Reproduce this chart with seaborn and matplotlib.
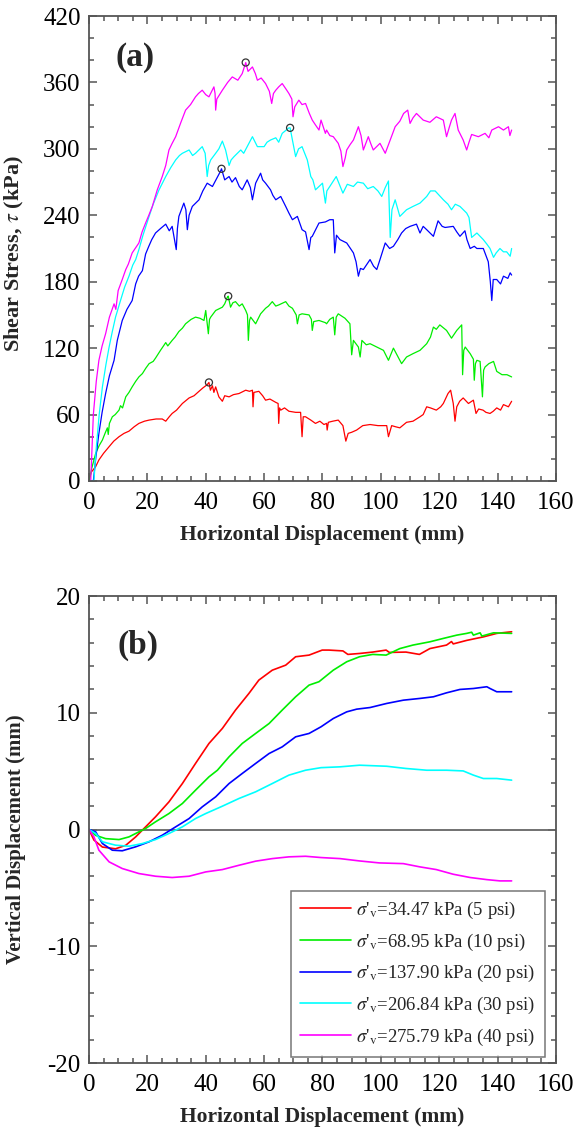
import numpy as np
import pandas as pd
import matplotlib
matplotlib.use("Agg")
import matplotlib.pyplot as plt
import seaborn as sns
from matplotlib.ticker import MultipleLocator

# ---------------- data ----------------
labels = [r"$\sigma$'$_{\mathrm{v}}$=34.47 kPa (5 psi)",
          r"$\sigma$'$_{\mathrm{v}}$=68.95 kPa (10 psi)",
          r"$\sigma$'$_{\mathrm{v}}$=137.90 kPa (20 psi)",
          r"$\sigma$'$_{\mathrm{v}}$=206.84 kPa (30 psi)",
          r"$\sigma$'$_{\mathrm{v}}$=275.79 kPa (40 psi)"]
colors = ["#ff0000", "#00ee00", "#0000ff", "#00ffff", "#ff00ff"]

shear_34 = [(0,0),(0.8,8),(2.3,13),(3.4,19),(5,25),(6.9,31),(8.5,36),(10.3,40),(12,43),(13.7,45),(15.5,49),(17.1,52),(19,54),(20.6,55),(23,56),(25.1,56),(26.3,54),(27.5,58),(28.5,61),(30,64),(32,70),(34.3,75),(36,77),(37.7,81),(39,84),(40.5,87),(41.1,89),(41.6,82),(42.3,86),(42.8,80),(43.4,85),(44.5,76),(45.7,72),(46.5,77),(48,76),(49.5,78),(51.4,79),(53.7,82),(55,81),(56,82),(56.2,67),(56.5,80),(58.2,81),(59.5,77),(60.5,73),(62,74),(64,71),(64.8,70),(65,52),(65.3,66),(65.7,64),(67,66),(68.5,63),(70.8,62),(72.5,62),(73,40),(73.4,58),(74.2,58),(76,55),(77.6,52),(79.1,54),(80.5,51),(81.4,52),(81.6,46),(82,53),(83.5,54),(85.4,55),(87,50),(88,36),(88.8,43),(90,44),(91.7,46),(93.8,50),(96.3,51),(99,50),(102,50),(102.6,40),(103.7,50),(105,49),(106.5,48),(108.8,53),(111,54),(113.4,58),(114.5,60),(115.7,67),(117,66),(119,64),(120.5,67),(121.4,70),(123,79),(123.9,82),(124.8,70),(125.4,54),(126,67),(127,72),(128.2,75),(130,70),(131.7,73),(132.6,61),(133.5,65),(135,64),(136,62),(137.4,61),(138.5,63),(139.7,66),(141,64),(142,69),(143.7,67),(144.8,72)]

shear_69 = [(0,0),(1,12),(2.3,25),(3.5,32),(4.6,37),(5.5,43),(6.3,48),(6.6,42),(7,52),(8,58),(9,60),(10.3,64),(10.8,68),(11.5,66),(12.6,76),(13.7,80),(14.8,85),(16,90),(17.1,94),(18.3,97),(19.5,102),(20.6,106),(22,108),(22.8,111),(24.5,118),(26.3,125),(27,122),(28.5,127),(29.5,130),(30.8,135),(32,138),(33.1,142),(35,146),(36.5,148),(38,147),(39.4,145),(40,154),(40.9,133),(41.3,146),(41.7,148),(43.4,154),(45.7,157),(46.5,160),(47.4,166),(47.7,167),(48.5,157),(49.3,161),(50.2,162),(51.5,158),(52.5,160),(53.7,154),(54.3,150),(54.6,127),(55,145),(55.4,148),(57.1,142),(58.8,151),(60.5,156),(61.5,158),(62.8,162),(64,158),(65,159),(67.4,162),(68.5,158),(69.7,156),(71,150),(71.4,142),(72,150),(73,151),(75.4,150),(76.2,146),(76.5,136),(77,144),(78.8,145),(81,143),(81.4,142),(82.5,146),(83.7,148),(84.2,132),(84.7,148),(85.4,151),(87.7,147),(89.4,142),(90,114),(90.6,127),(92.3,121),(92.9,112),(93.5,127),(95,123),(96.3,124),(98.6,121),(100.9,118),(102.6,109),(104.3,120),(105.5,114),(107.1,106),(108.8,112),(111,115),(113.4,118),(115.7,124),(117,130),(118,139),(119,137),(120.2,141),(122.5,136),(124.2,129),(126,136),(127.7,141),(128,96),(128.4,118),(128.9,121),(130.6,115),(131.7,110),(132,91),(132.4,106),(132.9,109),(134,108),(134.8,76),(135.2,100),(135.7,103),(137,106),(138.6,108),(139.7,99),(141.5,96),(143.2,96),(144.8,94)]

shear_138 = [(0,0),(1.5,0),(2.3,20),(3.4,43),(4.5,62),(5.7,79),(7,95),(8.6,109),(9.7,127),(11.4,145),(13,155),(14.8,163),(16,178),(17,185),(18.3,190),(19.4,205),(20.5,212),(21.5,218),(22.8,224),(24.5,228),(26.3,232),(27.5,226),(28.5,230),(29.9,209),(30.3,228),(30.8,239),(32.5,251),(33.2,245),(33.7,227),(34.3,240),(35.4,248),(37.7,254),(39,262),(40.5,269),(42.3,266),(43.5,272),(45.1,280),(45.4,282),(46.5,272),(48,275),(49,270),(50.2,274),(51.5,266),(52.5,263),(54.2,272),(55.3,265),(56,254),(57.1,269),(58.8,278),(59.5,272),(60.5,269),(62.2,263),(63,258),(64,254),(65.7,257),(67.4,248),(68.5,242),(69.7,236),(71.4,239),(73,227),(74.2,225),(75.4,209),(76,220),(76.5,221),(78.8,233),(81,234),(82.5,236),(83.7,236),(84.2,206),(84.8,222),(86,218),(88.3,215),(90.6,206),(91.5,198),(92.3,185),(93,192),(94,191),(96.3,200),(97.5,194),(98.6,191),(99.7,200),(101.5,215),(103,210),(104.3,212),(105.8,218),(107.1,224),(108.5,228),(110,230),(112.2,232),(113.4,224),(114.5,230),(115.7,227),(118,221),(119.6,235),(121,230),(122,229),(124.8,230),(126,225),(127.1,221),(128.8,226),(129.5,218),(130.6,210),(132,212),(132.9,210),(135.1,210),(136.8,198),(137.5,180),(138,163),(138.5,182),(139.7,182),(141,178),(142,185),(143.5,183),(144.3,188),(144.8,186)]

shear_207 = [(0,0),(1.7,0),(2.5,30),(3.5,60),(4.6,85),(5.8,105),(6.9,121),(8,135),(9.1,148),(10.8,163),(12.2,175),(13.7,185),(15,195),(16,200),(17.1,209),(18.5,222),(20.6,239),(22,250),(24,263),(26.3,275),(28,283),(29.7,290),(31,294),(32,296),(34.3,299),(35.5,294),(36.5,296),(38.8,302),(39.8,296),(40.5,275),(41,285),(41.7,290),(43.4,296),(44.5,300),(45.7,307),(46.8,299),(48,285),(48.7,290),(49.7,293),(52,299),(53,296),(54.2,302),(56,311),(57.7,302),(60,302),(61,306),(62.2,308),(64,310),(65,306),(66.2,314),(68.5,319),(68.9,319),(69.7,308),(70.8,293),(71.8,300),(73,302),(74.8,290),(76,275),(76.7,272),(77.6,263),(80,269),(81,251),(81.5,262),(82.5,266),(84.7,275),(87,260),(88.5,268),(90.6,266),(92,270),(94,269),(95.5,264),(97.4,266),(99,262),(100.3,257),(101.5,265),(102.6,271),(103.2,220),(103.8,245),(104.9,254),(106.5,239),(108.8,245),(111,248),(113.4,251),(115.7,257),(117,262),(118.6,262),(120,258),(121.4,254),(123,250),(124.2,245),(125.5,250),(127.1,248),(129.4,242),(130.2,238),(131.1,220),(132.9,224),(135.1,218),(136.3,214),(137.4,210),(138.6,202),(139.5,206),(140.8,210),(142,207),(143.1,207),(144.3,203),(144.8,210)]

shear_276 = [(0,0),(0.6,0),(1.5,60),(2.5,90),(3.4,109),(4.5,122),(5.7,133),(7,148),(8.6,160),(9.2,155),(10,172),(11.4,182),(12.6,191),(13.5,196),(14.8,206),(17.1,215),(18.2,225),(19.4,233),(20.5,240),(21.7,248),(22.5,255),(23.4,263),(25.1,275),(26.3,285),(27.4,299),(28.5,305),(29.7,311),(31.5,324),(33.1,335),(34.8,340),(36.5,347),(37.5,350),(38.8,353),(40,349),(41.1,347),(42.8,356),(43.2,350),(43.4,335),(43.8,345),(45.7,353),(47.5,360),(49.1,365),(51,362),(52.5,368),(53.7,378),(54.5,370),(56,374),(57,368),(57.7,362),(59,364),(60.5,359),(61.8,352),(62.6,341),(63.2,350),(64,353),(65,356),(66.2,359),(67.5,354),(68.5,350),(69.5,345),(69.9,329),(70.5,338),(71.9,344),(73,340),(74.2,341),(75.5,332),(76.5,326),(77.5,322),(78.8,317),(79.5,326),(81,314),(81.4,317),(82.5,312),(83.7,311),(85.4,305),(86.3,298),(87,284),(87.8,292),(88.3,299),(89.5,304),(90.6,308),(92.3,320),(93.2,312),(94,299),(95.7,311),(96.5,305),(97.4,299),(99.7,305),(101.5,296),(103.2,308),(104.9,320),(106.5,325),(107.8,332),(109.2,335),(110,323),(111,328),(112.2,332),(114.5,326),(116.8,324),(119,329),(121.4,326),(122.5,311),(123.5,320),(124.2,326),(125.4,332),(126.5,317),(128.2,308),(129.4,299),(130.2,306),(131.1,313),(133.4,311),(135.7,314),(137,310),(138,317),(140.3,320),(142,317),(143.7,320),(144.2,312),(144.8,317)]

peak_x = [41.1, 47.7, 45.4, 68.9, 53.7]
peak_y = [89, 167, 282, 319, 378]

vert_34 = [(0,0),(1.7,-0.9),(4.6,-1.5),(9.1,-1.65),(12.6,-1.35),(16,-0.63),(19.4,0.23),(22.8,1.09),(27.4,2.37),(32,3.94),(36.5,5.66),(41.1,7.37),(45.7,8.66),(50.2,10.23),(54.8,11.66),(58.2,12.8),(62.8,13.65),(67.4,14.08),(70.8,14.8),(75.4,14.94),(79.9,15.37),(82.2,15.37),(87,15.3),(88.7,15.0),(92.7,15.08),(97.2,15.2),(101.8,15.37),(102.9,15.17),(108.6,15.2),(113.2,15.0),(116.8,15.5),(122.5,15.8),(124.2,16.1),(124.8,15.9),(129.4,16.2),(135.1,16.5),(139.7,16.8),(144.8,16.94)]

vert_69 = [(0,0),(2.3,-0.5),(5.7,-0.78),(10.3,-0.86),(13.7,-0.63),(17.1,-0.2),(19.4,0.09),(22.8,0.66),(27.4,1.37),(32,2.23),(36.5,3.37),(41.1,4.51),(44,5.08),(48,6.23),(52.5,7.37),(57.1,8.23),(61.7,9.08),(66.2,10.23),(70.8,11.37),(75.4,12.37),(78.8,12.66),(83.7,13.65),(88.3,14.37),(92.7,14.8),(97.2,15.0),(101.8,14.94),(106.5,15.5),(111,15.8),(116.8,16.08),(121.4,16.37),(126,16.65),(129.4,16.8),(131.1,16.9),(131.7,16.65),(134,16.85),(134.6,16.57),(138.6,16.85),(144.8,16.8)]

vert_138 = [(0,0),(2.3,-0.2),(4.6,-1.2),(8,-1.77),(11.4,-1.82),(16,-1.48),(20.6,-1.05),(25.1,-0.49),(29.7,0.23),(34.3,0.94),(38.8,1.94),(43.4,2.8),(48,3.94),(52.5,4.8),(57.1,5.66),(61.7,6.51),(66.2,7.08),(70.8,7.94),(75.4,8.23),(79.5,8.8),(83.7,9.51),(88.3,10.08),(91.7,10.31),(96.3,10.45),(102,10.8),(107.7,11.08),(113.4,11.23),(118,11.37),(122.5,11.71),(127.1,12.0),(131.7,12.08),(136.3,12.23),(137.4,12.08),(139.7,11.8),(144.8,11.8)]

vert_207 = [(0,0),(2.3,-0.34),(4.6,-1.05),(9.1,-1.34),(13.7,-1.43),(18.3,-1.2),(22.8,-0.86),(27.4,-0.34),(32,0.23),(36.5,0.94),(40,1.37),(45.7,2.0),(51.4,2.66),(57.1,3.23),(62.8,3.94),(68.5,4.66),(74.2,5.08),(79.5,5.3),(86,5.37),(92.7,5.51),(102,5.42),(108.6,5.23),(115.7,5.08),(122.5,5.08),(128.2,5.02),(131.7,4.66),(135.1,4.37),(139.7,4.37),(144.8,4.23)]

vert_276 = [(0,0),(1.7,-0.63),(3.4,-1.77),(6.9,-2.77),(11.4,-3.34),(17.1,-3.77),(22.8,-4.0),(28.5,-4.11),(34.3,-4.0),(40,-3.63),(45.7,-3.43),(51.4,-3.06),(57.1,-2.71),(62.8,-2.49),(68.5,-2.34),(74.2,-2.29),(79.5,-2.4),(86,-2.49),(92.7,-2.69),(99.5,-2.86),(107.7,-2.92),(113.4,-3.2),(119,-3.43),(124.8,-3.83),(130.6,-4.11),(136.3,-4.29),(140.8,-4.4),(144.8,-4.4)]

shear_series = [shear_34, shear_69, shear_138, shear_207, shear_276]
vert_series = [vert_34, vert_69, vert_138, vert_207, vert_276]


def to_frame(series_list):
    rows = []
    for lab, pts in zip(labels, series_list):
        for k, (x, y) in enumerate(pts):
            rows.append({"x": x, "y": y, "label": lab, "order": k})
    return pd.DataFrame(rows)


dfA = to_frame(shear_series)
dfB = to_frame(vert_series)
palette = dict(zip(labels, colors))

# ---------------- style ----------------
sns.set_theme(style="ticks")
plt.rcParams["font.family"] = ["Liberation Serif", "DejaVu Serif"]
plt.rcParams["mathtext.fontset"] = "stix"
plt.rcParams["axes.unicode_minus"] = False
plt.rcParams["axes.edgecolor"] = "#555555"

fig = plt.figure(figsize=(5.77, 11.28), dpi=100)
axA = fig.add_axes([0.1542, 0.5736, 0.8094, 0.4122])
axB = fig.add_axes([0.1542, 0.0576, 0.8094, 0.4140])

sns.lineplot(data=dfA, x="x", y="y", hue="label", hue_order=labels,
             palette=palette, estimator=None, sort=False, linewidth=0.9,
             legend=False, ax=axA)
sns.scatterplot(x=peak_x, y=peak_y, ax=axA, s=26, marker="o", color="none",
                edgecolor="#333333", linewidth=0.9, zorder=5, legend=False)

axB.axhline(0, color="#666666", lw=1.3, zorder=1)
sns.lineplot(data=dfB, x="x", y="y", hue="label", hue_order=labels,
             palette=palette, estimator=None, sort=False, linewidth=1.2,
             legend=True, ax=axB)

for ax in (axA, axB):
    ax.set_xlim(0, 160)
    ax.xaxis.set_major_locator(MultipleLocator(20))
    ax.xaxis.set_minor_locator(MultipleLocator(5))
    ax.tick_params(which="both", direction="in", top=True, right=True,
                   color="#555555", width=1.1, labelsize=18, labelcolor="black")
    ax.tick_params(which="major", length=6)
    ax.tick_params(which="minor", length=3.5)
    ax.tick_params(axis="x", pad=8)
    ax.tick_params(axis="y", pad=6)
    for s in ax.spines.values():
        s.set_linewidth(1.3)
        s.set_color("#555555")
    ax.set_xlabel("Horizontal Displacement (mm)", fontsize=15.5, fontweight="bold")

axA.set_ylim(0, 420)
axA.yaxis.set_major_locator(MultipleLocator(60))
axA.yaxis.set_minor_locator(MultipleLocator(20))
axA.set_ylabel(r"Shear Stress, $\tau$ (kPa)", fontsize=16, fontweight="bold")

axB.set_ylim(-20, 20)
axB.yaxis.set_major_locator(MultipleLocator(10))
axB.yaxis.set_minor_locator(MultipleLocator(2))
axB.set_ylabel("Vertical Displacement (mm)", fontsize=15, fontweight="bold")

axA.yaxis.set_label_coords(-0.135, 0.49)
axB.yaxis.set_label_coords(-0.135, 0.48)
axA.xaxis.set_label_coords(0.5, -0.095)
axB.xaxis.set_label_coords(0.5, -0.094)

axA.text(0.056, 0.91, "(a)", transform=axA.transAxes, fontsize=24,
         fontweight="bold", va="center", ha="left")
axB.text(0.062, 0.895, "(b)", transform=axB.transAxes, fontsize=24,
         fontweight="bold", va="center", ha="left")

handles, labs = axB.get_legend_handles_labels()
leg = axB.legend(handles, labs, loc="lower right", bbox_to_anchor=(0.976, 0.013),
                 borderaxespad=0, fontsize=13.5, frameon=True, fancybox=False,
                 edgecolor="#555555", handlelength=2.7, labelspacing=0.56,
                 borderpad=0.5, handletextpad=0.3)
leg.get_frame().set_linewidth(1.1)
for h in leg.legend_handles:
    h.set_linewidth(1.2)

fig.savefig("out.png", dpi=100)
